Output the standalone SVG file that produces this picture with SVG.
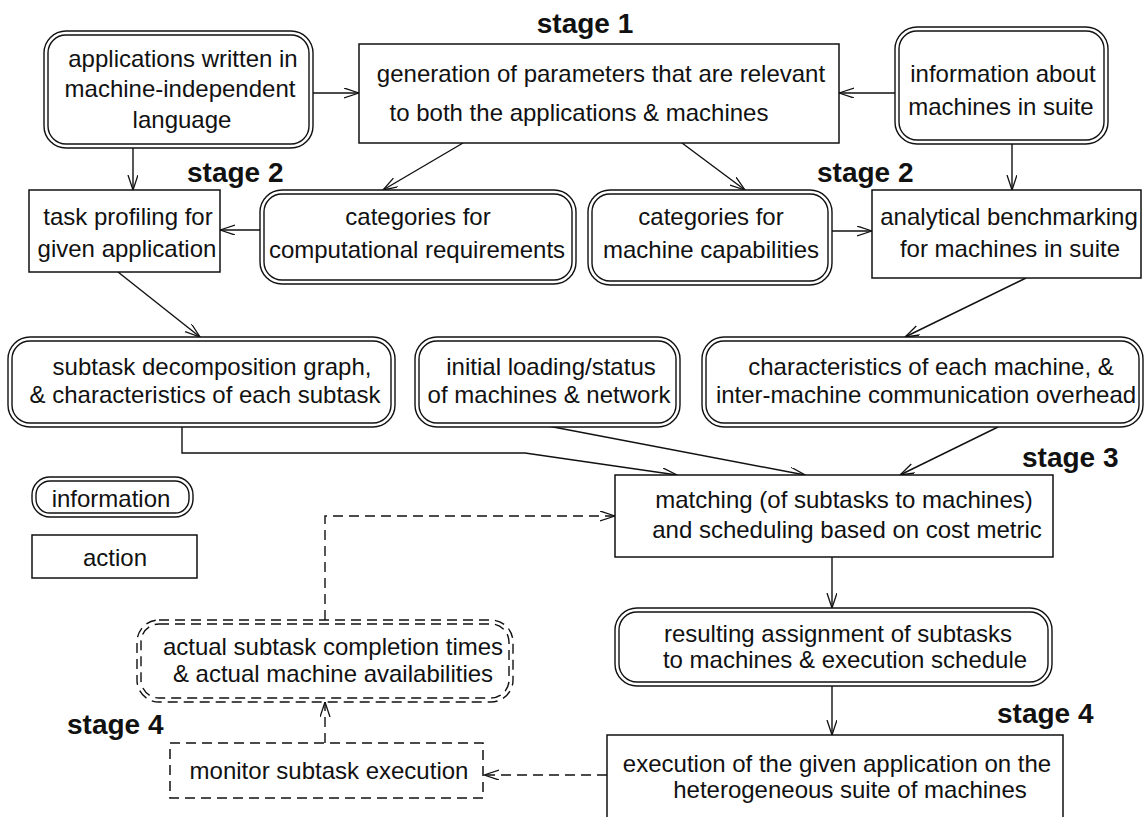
<svg xmlns="http://www.w3.org/2000/svg" width="1145" height="817" viewBox="0 0 1145 817">
<style>
  .t { font-family: "Liberation Sans", Arial, sans-serif; font-size: 24px; fill: #111; text-anchor: middle; }
  .s { font-family: "Liberation Sans", Arial, sans-serif; font-size: 28px; font-weight: bold; fill: #111; }
  .act { fill: #fff; stroke: #111; stroke-width: 1.5; }
  .o { fill: #fff; stroke: #111; stroke-width: 1.4; }
  .i { fill: none; stroke: #111; stroke-width: 1.4; }
  .dash { stroke-dasharray: 10 6; }
  .c { fill: none; stroke: #111; stroke-width: 1.4; }
</style>
<defs>
  <marker id="ah" markerUnits="userSpaceOnUse" markerWidth="16" markerHeight="12" refX="15" refY="5" orient="auto">
    <path d="M0,0 L15,5 L0,10" fill="none" stroke="#111" stroke-width="1.3"/>
  </marker>
</defs>
<rect width="1145" height="817" fill="#fff"/>

<g id="labels">
  <text class="s" x="585" y="33" text-anchor="middle">stage 1</text>
  <text class="s" x="187" y="182">stage 2</text>
  <text class="s" x="817" y="182">stage 2</text>
  <text class="s" x="1022" y="467">stage 3</text>
  <text class="s" x="997" y="723">stage 4</text>
  <text class="s" x="67" y="734">stage 4</text>
</g>

<g id="connectors">
  <line class="c" x1="313" y1="93" x2="359" y2="93" marker-end="url(#ah)"/>
  <line class="c" x1="895" y1="93" x2="839" y2="93" marker-end="url(#ah)"/>
  <line class="c" x1="133" y1="148" x2="133" y2="190" marker-end="url(#ah)"/>
  <line class="c" x1="1012" y1="144" x2="1012" y2="190" marker-end="url(#ah)"/>
  <line class="c" x1="463" y1="143" x2="383" y2="190" marker-end="url(#ah)"/>
  <line class="c" x1="682" y1="143" x2="745" y2="190" marker-end="url(#ah)"/>
  <line class="c" x1="260" y1="230" x2="220" y2="230" marker-end="url(#ah)"/>
  <line class="c" x1="832" y1="231" x2="872" y2="231" marker-end="url(#ah)"/>
  <line class="c" x1="118" y1="272" x2="200" y2="337" marker-end="url(#ah)"/>
  <line class="c" x1="1026" y1="278" x2="905" y2="337" marker-end="url(#ah)"/>
  <polyline class="c" points="182,427 182,453 525,453 677,475" marker-end="url(#ah)"/>
  <line class="c" x1="548" y1="426" x2="805" y2="475" marker-end="url(#ah)"/>
  <line class="c" x1="998" y1="427" x2="900" y2="475" marker-end="url(#ah)"/>
  <line class="c" x1="832" y1="557" x2="832" y2="608" marker-end="url(#ah)"/>
  <line class="c" x1="832" y1="686" x2="832" y2="735" marker-end="url(#ah)"/>
  <polyline class="c dash" points="325,620 325,516 615,516" marker-end="url(#ah)"/>
  <line class="c dash" x1="325" y1="743" x2="325" y2="702" marker-end="url(#ah)"/>
  <line class="c dash" x1="607" y1="775" x2="484" y2="775" marker-end="url(#ah)"/>
</g>

<g id="n-apps">
  <rect class="o" x="44" y="31" width="269" height="117" rx="22"/>
  <rect class="i" x="48" y="35" width="261" height="109" rx="18"/>
  <text class="t" x="183" y="67">applications written in</text>
  <text class="t" x="180" y="97">machine-independent</text>
  <text class="t" x="182" y="128">language</text>
</g>

<g id="n-gen">
  <rect class="act" x="359" y="44" width="480" height="99"/>
  <text class="t" x="601" y="82">generation of parameters that are relevant</text>
  <text class="t" x="579" y="121">to both the applications &amp; machines</text>
</g>

<g id="n-info">
  <rect class="o" x="895" y="27" width="213" height="117" rx="22"/>
  <rect class="i" x="899" y="31" width="205" height="109" rx="18"/>
  <text class="t" x="1003" y="82">information about</text>
  <text class="t" x="1001" y="115">machines in suite</text>
</g>

<g id="n-task">
  <rect class="act" x="29" y="190" width="191" height="82"/>
  <text class="t" x="128" y="225">task profiling for</text>
  <text class="t" x="127" y="257">given application</text>
</g>

<g id="n-catcomp">
  <rect class="o" x="260" y="190" width="316" height="94" rx="22"/>
  <rect class="i" x="264" y="194" width="308" height="86" rx="18"/>
  <text class="t" x="418" y="225">categories for</text>
  <text class="t" x="417" y="258">computational requirements</text>
</g>

<g id="n-catmach">
  <rect class="o" x="588" y="190" width="244" height="95" rx="22"/>
  <rect class="i" x="592" y="194" width="236" height="87" rx="18"/>
  <text class="t" x="711" y="225">categories for</text>
  <text class="t" x="711" y="258">machine capabilities</text>
</g>

<g id="n-analytical">
  <rect class="act" x="872" y="190" width="269" height="88"/>
  <text class="t" x="1009" y="225">analytical benchmarking</text>
  <text class="t" x="1010" y="257">for machines in suite</text>
</g>

<g id="n-subtask">
  <rect class="o" x="8" y="337" width="387" height="90" rx="22"/>
  <rect class="i" x="12" y="341" width="379" height="82" rx="18"/>
  <text class="t" x="212" y="375">subtask decomposition graph,</text>
  <text class="t" x="205" y="403">&amp; characteristics of each subtask</text>
</g>

<g id="n-initial">
  <rect class="o" x="415" y="337" width="265" height="90" rx="22"/>
  <rect class="i" x="419" y="341" width="257" height="82" rx="18"/>
  <text class="t" x="551" y="375">initial loading/status</text>
  <text class="t" x="549" y="403">of machines &amp; network</text>
</g>

<g id="n-charac">
  <rect class="o" x="702" y="337" width="441" height="90" rx="22"/>
  <rect class="i" x="706" y="341" width="433" height="82" rx="18"/>
  <text class="t" x="931" y="375">characteristics of each machine, &amp;</text>
  <text class="t" x="926" y="403">inter-machine communication overhead</text>
</g>

<g id="n-matching">
  <rect class="act" x="615" y="475" width="438" height="82"/>
  <text class="t" x="844" y="508">matching (of subtasks to machines)</text>
  <text class="t" x="847" y="538">and scheduling based on cost metric</text>
</g>

<g id="n-resulting">
  <rect class="o" x="615" y="608" width="437" height="78" rx="22"/>
  <rect class="i" x="619" y="612" width="429" height="70" rx="18"/>
  <text class="t" x="838" y="642">resulting assignment of subtasks</text>
  <text class="t" x="845" y="668">to machines &amp; execution schedule</text>
</g>

<g id="n-execution">
  <rect class="act" x="607" y="735" width="456" height="95"/>
  <text class="t" x="837" y="772">execution of the given application on the</text>
  <text class="t" x="850" y="798">heterogeneous suite of machines</text>
</g>

<g id="n-actual">
  <rect class="o dash" x="137" y="620" width="376" height="82" rx="22"/>
  <rect class="i dash" x="141" y="624" width="368" height="74" rx="18"/>
  <text class="t" x="333" y="655">actual subtask completion times</text>
  <text class="t" x="333" y="682">&amp; actual machine availabilities</text>
</g>

<g id="n-monitor">
  <rect class="act dash" x="170" y="743" width="313" height="55"/>
  <text class="t" x="329" y="779">monitor subtask execution</text>
</g>

<g id="legend-information">
  <rect class="o" x="32" y="477" width="161" height="40" rx="18"/>
  <rect class="i" x="36" y="481" width="153" height="32" rx="14"/>
  <text class="t" x="111" y="507">information</text>
</g>

<g id="legend-action">
  <rect class="act" x="32" y="535" width="165" height="43"/>
  <text class="t" x="115" y="566">action</text>
</g>
</svg>
